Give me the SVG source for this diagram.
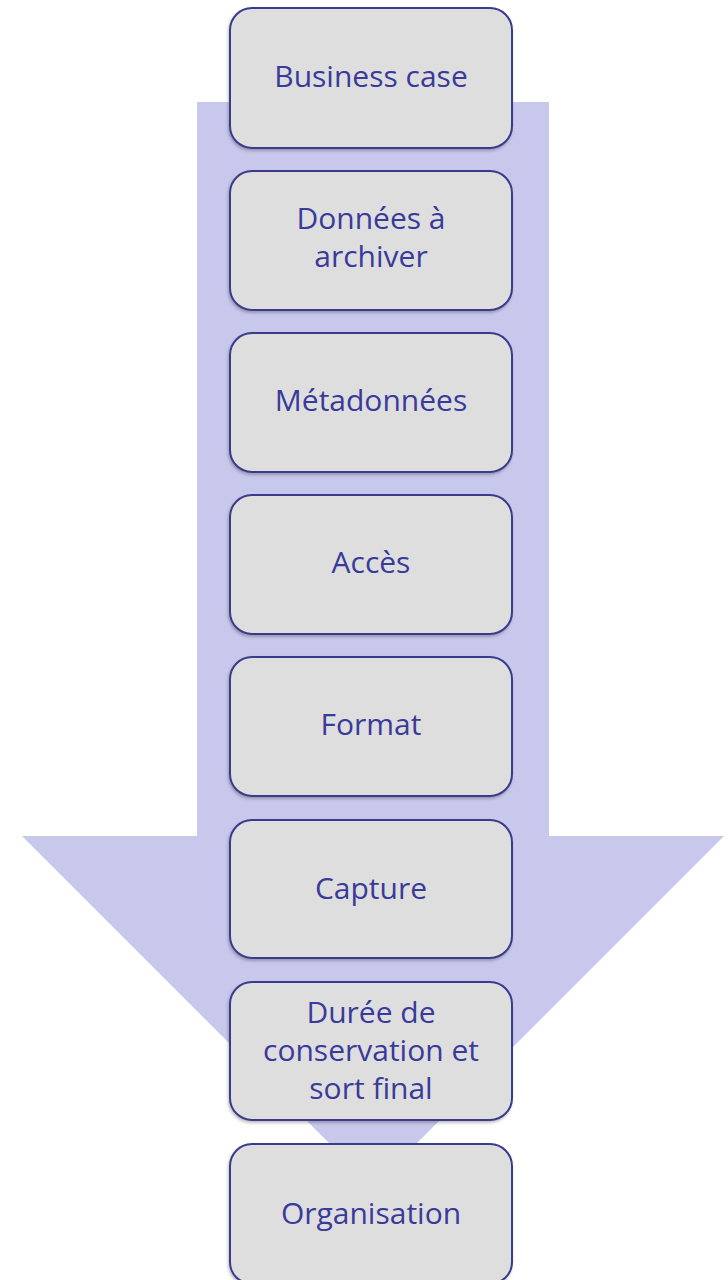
<svg xmlns="http://www.w3.org/2000/svg" width="728" height="1280" viewBox="0 0 728 1280">
  <defs>
    <filter id="shadow" x="-10%" y="-10%" width="120%" height="120%">
      <feDropShadow dx="-1" dy="2" stdDeviation="1.5" flood-color="#000" flood-opacity="0.25"/>
    </filter>
    <style>
      .step rect { fill: #dedede; stroke: #3b3b8c; stroke-width: 2; filter: url(#shadow); }
      .step text { font-family: "Open Sans", "Liberation Sans", sans-serif; font-size: 30px; fill: #3a3a9a; text-anchor: middle; dominant-baseline: central; }
      .flow { fill: #c8c8ec; }
    </style>
  </defs>
  <rect width="728" height="1280" fill="#ffffff"/>

  <!-- Background flow arrow -->
  <g id="connectors">
    <path class="flow" d="M197,102 H549 V836 H724 L373,1187 L22,836 H197 Z"/>
  </g>

  <g id="n1" class="step">
    <rect x="230" y="8" width="282" height="140" rx="22"/>
    <text x="371" y="75">Business case</text>
  </g>
  <g id="n2" class="step">
    <rect x="230" y="171" width="282" height="139" rx="22"/>
    <text x="371" y="217">Données à</text>
    <text x="371" y="255">archiver</text>
  </g>
  <g id="n3" class="step">
    <rect x="230" y="333" width="282" height="139" rx="22"/>
    <text x="371" y="399">Métadonnées</text>
  </g>
  <g id="n4" class="step">
    <rect x="230" y="495" width="282" height="139" rx="22"/>
    <text x="371" y="561">Accès</text>
  </g>
  <g id="n5" class="step">
    <rect x="230" y="657" width="282" height="139" rx="22"/>
    <text x="371" y="723">Format</text>
  </g>
  <g id="n6" class="step">
    <rect x="230" y="820" width="282" height="138" rx="22"/>
    <text x="371" y="887">Capture</text>
  </g>
  <g id="n7" class="step">
    <rect x="230" y="982" width="282" height="138" rx="22"/>
    <text x="371" y="1011">Durée de</text>
    <text x="371" y="1049">conservation et</text>
    <text x="371" y="1087">sort final</text>
  </g>
  <g id="n8" class="step">
    <rect x="230" y="1144" width="282" height="140" rx="22"/>
    <text x="371" y="1212">Organisation</text>
  </g>
</svg>
